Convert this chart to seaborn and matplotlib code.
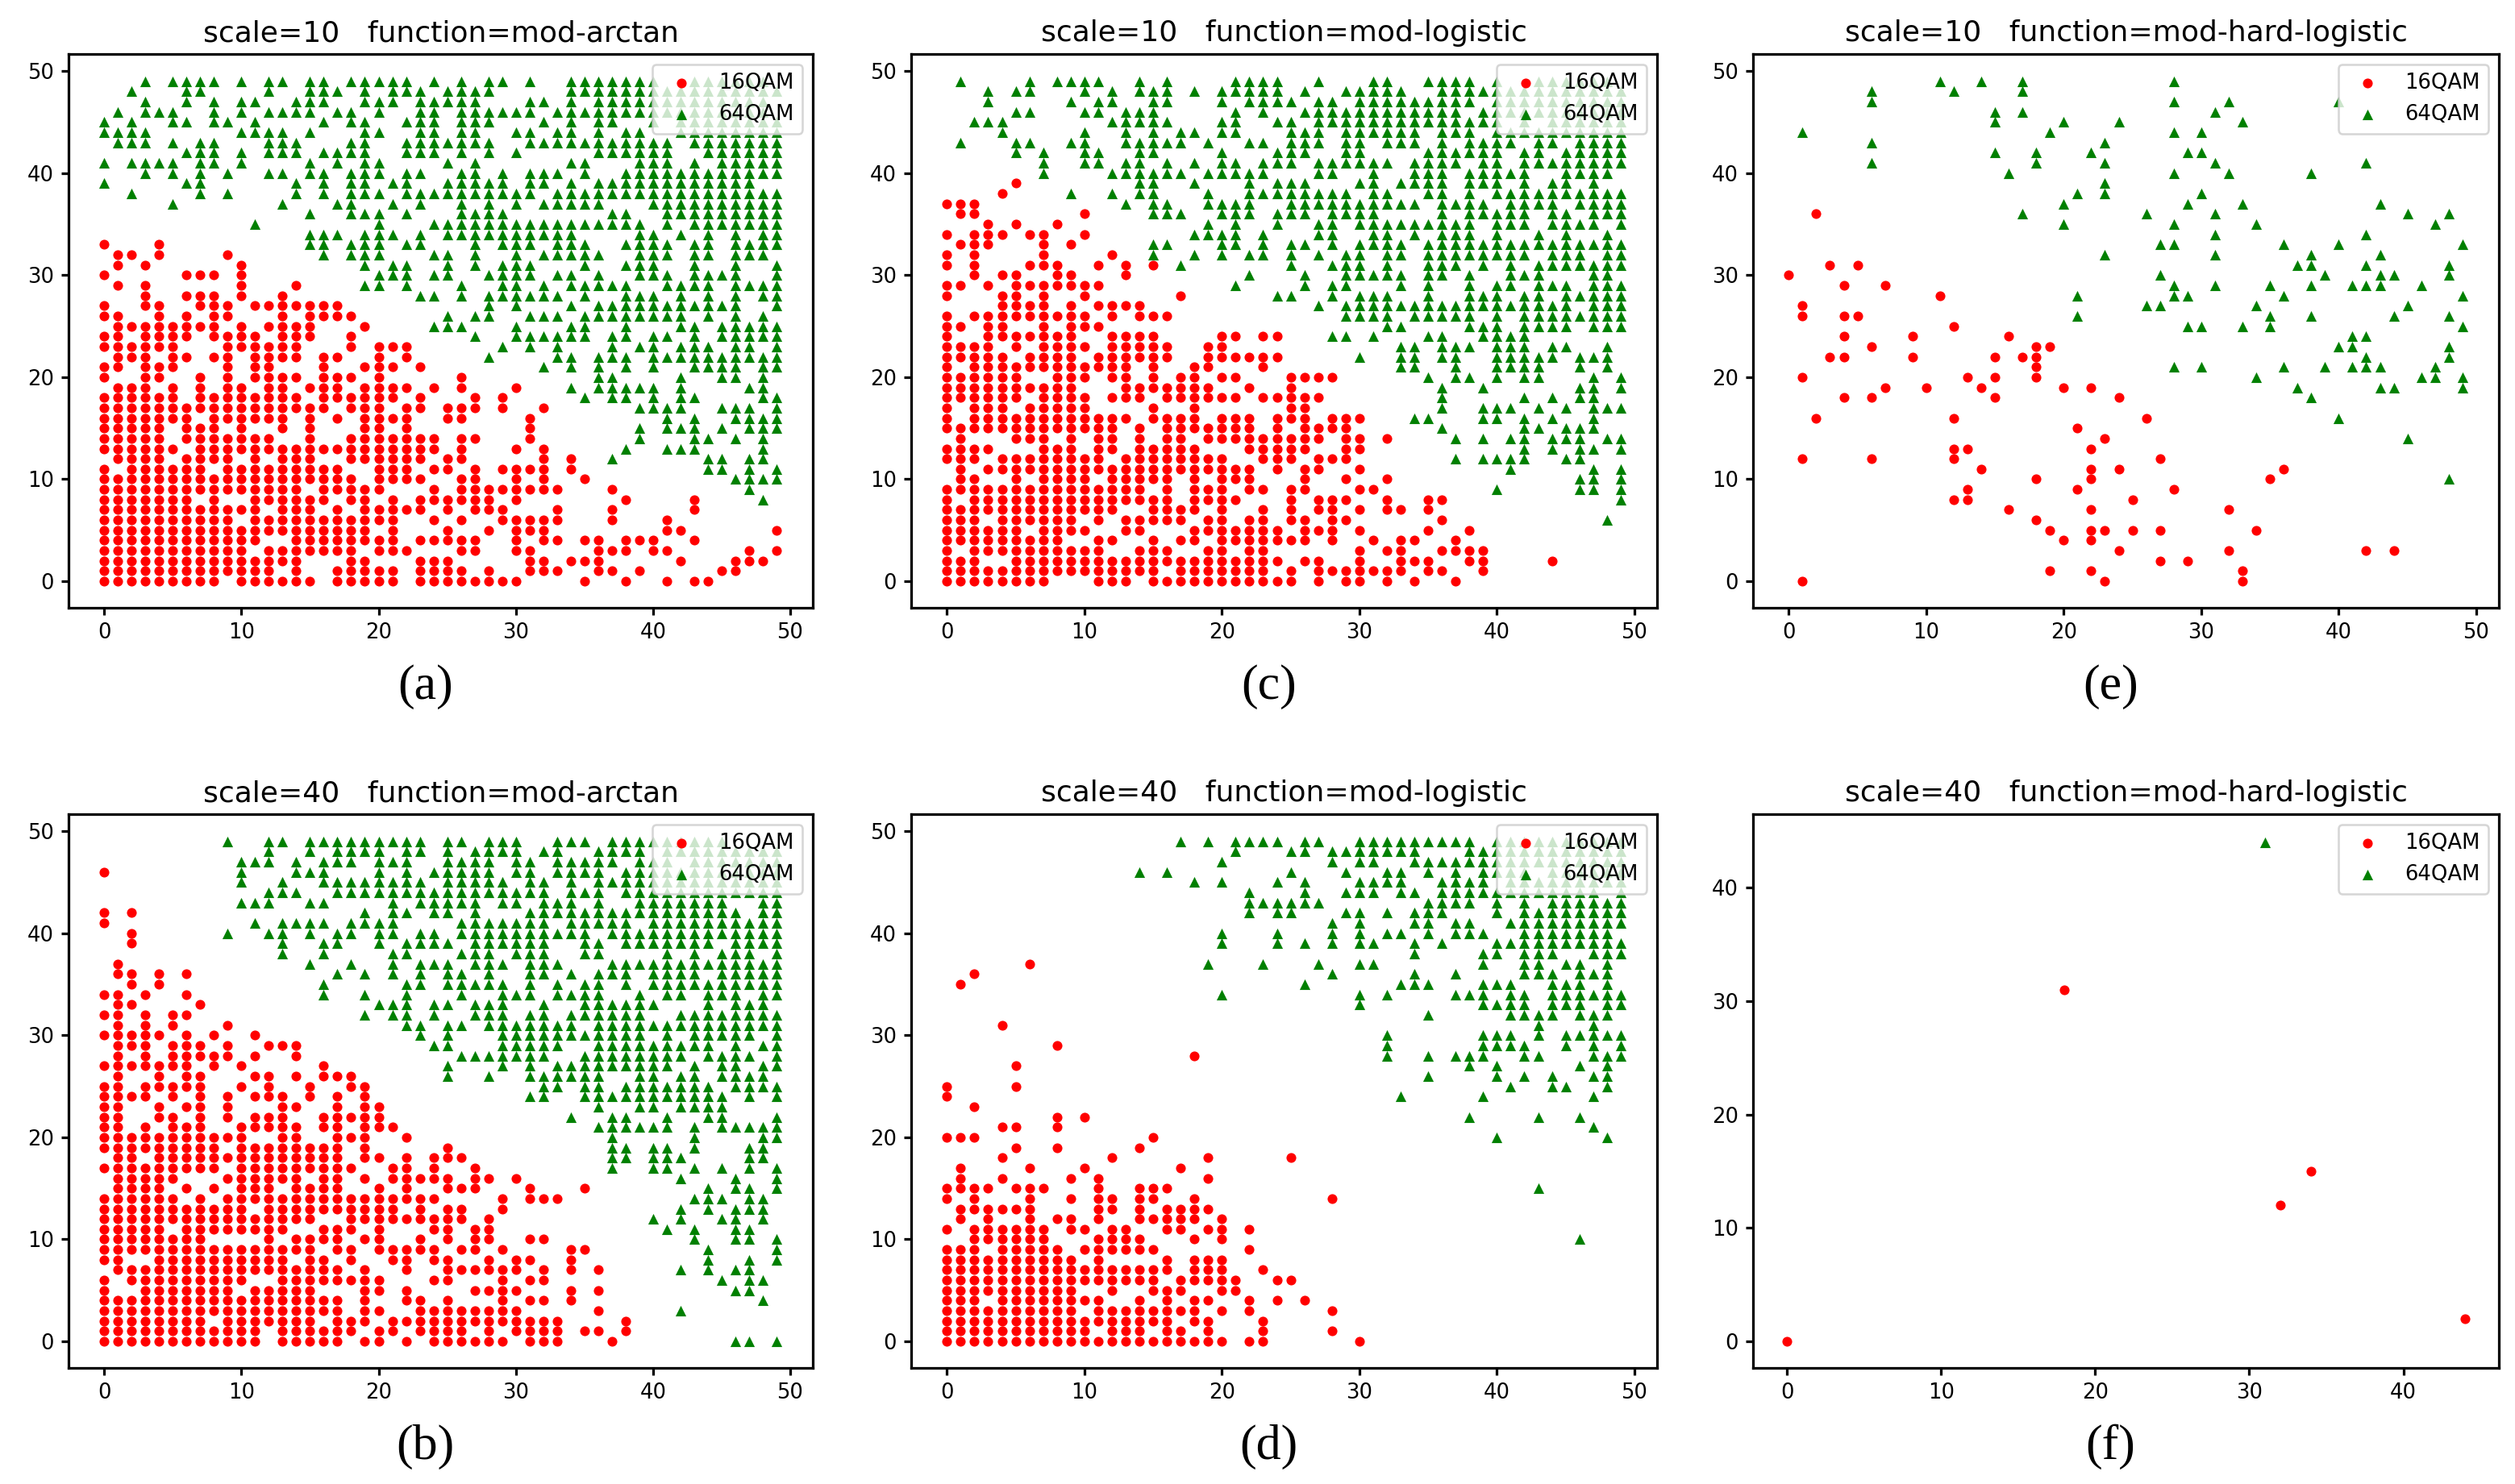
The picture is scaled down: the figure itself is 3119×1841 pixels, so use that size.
import matplotlib
matplotlib.use("Agg")
import matplotlib.pyplot as plt
import pandas as pd
import seaborn as sns

# Each table: y value -> the x values holding a point on that row ("3-5" = 3,4,5)
A_16QAM = {33:"0,4",32:"1,2,4,9",31:"1,3,10",30:"0,6,7,8,10",29:"1,3,10,14",28:"3,6,7,8,10,13",
27:"0,3,4,7,8,9,11-17",26:"0,1,4,6,8,9,13,15-18",25:"1-8,10,12-15,19",24:"0,1,3-6,8-11,13,14,15,18",
23:"0-5,9-14,18,20,21,22",22:"1,2,3,5,6,8,9,11-14,16,17,20,22",21:"0,1,3,4,5,9,11,12,16,19,20,21,23",
20:"0,3,4,7,9,11-14,16,17,18,20,26",19:"1,2,3,5,7,9,10,12,13,15,16,17,19-22,24,26,30",
18:"0-5,7-14,16-21,23,27,29",17:"0-16,18,19,20,22,23,25,26,27,29,32",16:"0-6,8-13,15,17,19-22,25,26,31",
15:"0-4,6,7,8,10,13,15,19,20,22,31",14:"0-4,6-12,15,18-24,26,27,31",13:"0-5,7-24,26,30,32",
12:"1-4,6-9,11,13,14,15,18-23,25,26,32,34",11:"0,2-7,9-17,20,21,22,24,25,27,29-32,34",
10:"0-18,20-23,26,27,30,32,35",9:"0-14,16-20,24,26-33,37",8:"0-6,8,11-16,18,19,21,23-28,30,38,43",
7:"0-11,13,14,15,17,19-23,25,27,28,29,33,37,43",6:"0-9,11-21,24,26,29-33,37,41",
5:"0-19,21,25,28,30,31,32,41,42,49",4:"0-11,14-21,23-27,30,32,33,35,36,38,39,40,43",
3:"0-10,12-18,20,21,22,26,27,30,31,36,37,38,40,41,47,49",2:"0-14,18,19,23,24,25,31,32,34,35,36,42,46,47,48",
1:"0-12,14,17-21,23-26,28,31,32,33,36,37,39,45,46",0:"0-8,10-15,17-21,23-30,35,38,41,43,44"}
A_64QAM = {49:"3,5-8,10,12,13,15,16,18-22,24,26,28,29,31,34-40,43-48",48:"2,6,7,12,15,16,17,19,21,22,23,25-28,34-49",
47:"3,6,8,10,11,14,15,16,19,20,21,23-27,31,32,34,36-48",46:"1,3,4,5,8,10,12-15,17,18,20,23,24,26-31,33-48",
45:"0,2,5,6,8,9,11,16,18,19,22,23,24,26,27,28,32,34,36,37,40,42-49",44:"0-3,10-13,15,19,20,23,24,26,27,30,31,33,34,36,38,39,42-49",
43:"1,2,3,5,7,8,12,13,14,18,19,22-28,31-41,43-49",42:"6,7,8,10,12,13,14,16-19,22,23,24,26,28,30,36-41,44-49",
41:"0,2-5,7,8,10,15,17,19,20,25,27,34,35,39,40,41,43,45-49",40:"3,5,7,9,12,13,15,16,18,19,20,22,23,26,27,29,31,32,33,35,38-49",
39:"0,6,7,14,16,18,19,21,22,25-29,31,32,34,36-47",38:"2,7,9,14,16,18,19,20,22-31,33-49",37:"5,13,17,18,21,23,26,28,30,32-36,40-49",
36:"15,18,19,20,22,26-29,37,38,41-49",35:"11,20,24-39,41,43-49",34:"15,16,17,19,20,21,23,25-34,39,40,42,44,46,48,49",
33:"15,16,18,19,20,22,23,27,29,30,31,33,34,35,38-41,43,44,46,47,48,49",32:"16,18,19,20,24,25,27,30,32-36,39,40,41,43,44,46,47,48",
31:"19,21,22,25,27,29,30,31,35,38,39,40,43,46,49",30:"20,21,22,24,25,28-31,33,34,36,39,40,41,43-46,49",
29:"19,20,22,26,29,30,32,34-38,41-44,46-49",28:"23,24,26,28-33,35,38,39,40,42,44,46,48,49",27:"28,30,34,36-46,49",
26:"25,27,28,31,32,33,35-42,44,46,48",25:"24,25,26,30,34,35,38,42,43,45-49",24:"27,30-35,37,38,40,41,43,45-49",
23:"29,31,33,37,39,40,42,43,44,46,47,49",22:"28,33,34,36,37,38,40-49",21:"32,34,36,38,40,43,44,45,46,48,49",
20:"36,37,42,45,46,48",19:"34,36-40,42,47,48",18:"35,37,38,40,42,43,48,49",17:"39-42,45,46,47,49",16:"41,43,46-49",
15:"39,41,42,43,45,47,48,49",14:"39,43,44,46,48",13:"38,41,42,43,48",12:"37,44,45,47,48",11:"44,45,47,49",10:"46-49",9:"47",8:"48"}

B_16QAM = {46:"0",42:"0,2",41:"0",40:"2",39:"2",37:"1",36:"1,2,4,6",35:"2,4",34:"0,1,3,6",33:"1,2,7",32:"0,1,3,5,6",31:"1,3,5,9",
30:"0-4,6,8,11",29:"1,2,3,5,6,7,9,12,13,14",28:"1,3,5-9,11,14",27:"0-6,8,10,16",26:"1,4,6,7,11,12,14,16,17,18",
25:"0,1,3-7,10,12,15,18,19",24:"0,1,2,3,5,7,9,11,12,13,15,17,19",23:"0,1,4,6,7,9,13,14,17,19,20",22:"0,1,4,5,7,9,11,12,13,16-20",
21:"0,1,3,5,6,7,10-14,16,17,19,20,21",20:"0-10,13,14,17,18,19,22",19:"0-8,10-17,19,25",18:"1,2,4-17,19,20,22,24,25,26",
17:"0-8,10-18,21,22,24,27",16:"1-5,9-14,16,17,19,21-25,27,28,30",15:"1-4,6,8,10,11,12,14-17,20,22,25,26,27,31,35",
14:"0-5,7,9-24,29,31,32,33",13:"0-10,12-21,23,25,26,29",12:"0-15,18-26,28",11:"0-4,6-13,16,17,18,20,24,25,27,28",
10:"0-7,12,14-17,19,20,23,25,27,28,31,32",9:"0-15,17,18,20-24,26,27,29,34,35",8:"0,1,4-13,15,16,18,21,22,24,25,28,30,31,34",
7:"1-17,19,22,25-30,32,34,36",6:"0,2-10,13-20,24,25,29,31,32",5:"0,3-9,11-15,19,20,22,27-30,34,36",4:"0-17,19,22,23,25,29,31,32,34",
3:"0-17,19,20,23-30,36",2:"0-7,9-15,17,18,19,21-33,38",1:"0-11,13-18,20,21,23-26,28,30-33,35,36,38",0:"0-11,13-17,19,20,22,24-29,31,32,33,37"}
B_64QAM = {49:"9,12,13,15-23,25,26,28,29,30,33,34,35,37-45",48:"12,15,17-20,22,23,25,27-30,32,33,36-39,41-49",
47:"10,11,12,14,16,17,18,20,21,22,25-28,30,31,33-37,39,40,41,43-49",46:"10,14,15,16,20,22,24-28,30,31,33-36,38-49",
45:"10,13,16-23,25-29,31,32,34,36-49",44:"12,13,14,17-32,34,35,36,38-49",43:"10,11,12,15,16,21,23-27,29,30,32,33,34,36,39-45,48,49",
42:"19,21,22,24,25,27,31-46,48,49",41:"11,13-16,18-21,26-32,34-38,40-49",40:"9,12,13,15,17,18,20,21,23,24,26-35,37-49",
39:"13,16,17,20,22-25,27-32,35,36,38-44,46-49",38:"13,16,21,22,26,27,28,30,31,32,35,36,41,43,45,46,47,49",
37:"15,18,21,23,24,25,27,28,29,31,32,33,37-49",36:"17,19,21,23,25,26,28,31,32,34,36,37,38,40-43,45-49",
35:"16,22,23,25-29,31,33,35,36,38,40-49",34:"16,19,22,26,29,30,31,33-36,39,41,42,44,45,46,48,49",
33:"20,21,22,24,25,27,28,29,32,35-40,44,46,47,48",32:"19,21,22,24,27,28,29,31,32,34-39,42-49",31:"22,23,25,26,28-34,36-49",
30:"23,25,29-39,41,43-47,49",29:"24,25,29-33,36-44,46,48,49",28:"26-32,35-42,44-47,49",27:"25,29,31,33-41,43,45,46,48,49",
26:"25,28,31-36,39,40,42,43,45-48",25:"32,33,35,36,38-44,46-49",24:"31,32,35-45,47,49",23:"36,39,40,42-45",22:"34,37,38,41,44,45,49",
21:"36-41,43,45-49",20:"37,43,48,49",19:"37,38,40,41,43,47,48",18:"37,38,40,41,42,47,48",17:"37,40,41,43,45,47,49",16:"42,46,49",
15:"44,46,47,49",14:"43,44,45,47,48",13:"42,44,46,47,48",12:"40,42,45,46,48",11:"41,43,46,47",10:"43,46,47,49",9:"44,49",8:"44,47,49",
7:"42,44,46,47",6:"45,47,48",5:"46,47",4:"48",3:"42",0:"46,47,49"}

C_16QAM = {39:"5",38:"4",37:"0,1,2",36:"1,2,10",35:"3,5,8",34:"0,2,3,4,6,7,10",33:"1,2,3,7,9",32:"0,2,7,12",31:"0,2,6,7,8,11,13,15",
30:"2,4,5,8,9,13",29:"0,1,3,5-11",28:"0,4,5,7,10,17",27:"4-7,9,11-14",26:"0,2-10,12,14,15,16",25:"0,1,3,4,7,9,10,11",
24:"0,3-9,12-15,20,21,23,24",23:"0-3,5,7-10,12-16,19,20",22:"0-4,6-9,11-16,19-24",21:"0,2-13,15,18,19,23",20:"0-5,8,9,10,12,13,15,17,18,20,21,25-28",
19:"0-9,13-19,22,25",18:"0-5,7-10,12,13,14,16-21,23-27",17:"0,2,3,4,6-10,15,18,25,26",16:"0,2-13,15-18,20,21,22,24,25,26,28,29,30",
15:"0-12,14,16-22,24,26-29",14:"1,5,6,7,9,11,12,14,16,17,19-27,29,30,32",13:"0-3,7,8,9,11,12,14-18,22-26,29,30",
12:"0,1,2,4-11,13-20,23,24,25,27,28,29",11:"1,3-22,24,26,27,30",10:"1,2,5,7-10,12-16,18,20,21,22,26,29,32",
9:"0-14,16,18,19,20,22,23,25,26,30,31",8:"0,2-16,18-21,25,27,28,29,32,35,36",7:"0-12,15-18,20,23,25,27,28,30,32,33,35",
6:"0,1,2,4-9,11,13-17,19,20,22,23,25,26,28,29,36",5:"0-5,7-10,13,14,18-24,26,27,28,30,35,38",4:"0-8,11,12,15,17,18,20-26,28,31,33,34,37",
3:"0,2-11,14,15,16,19,20,22,23,30,32,33,36-39",2:"0,1,2,5-24,26,27,30,33,34,35,38,39,44",1:"0-15,17-23,25,27-33,35,36,39",
0:"0-7,11,12,13,15-25,27,29,30,32,34,37"}
C_64QAM = {49:"1,6,8-11,14,16,21-24,27,31,32,35-38,40,43-48",48:"3,5,6,10,12,14,15,16,18,20-24,26,29-33,36-49",
47:"3,9,11,12,15,16,20,22-25,27,28,30-38,40-49",46:"5,6,10,11,13,14,15,21,23,26-37,39-49",45:"2,3,4,12-16,20,21,24,25,27-39,40,42,44-49",
44:"4,10,13,15,17,18,20,21,25,26,27,29-34,36,37,38,40-49",43:"1,5,6,9,10,13-17,19,22,23,25,26,27,29,30,32,33,34,36,38-41,43,44,46-49",
42:"5,7,10,11,14,15,20,24,25,26,29,30,35-40,42,43,45-49",41:"7,10,11,13,14,16,18,20,21,23,24,25,27-32,34-37,39,40,42-49",
40:"7,12-17,19-23,27,28,31,34,35,36,38-42,45-48",39:"14,15,18,22,24,25,26,30,31,33,34,35,36,38,39,40,42,44,45,47",
38:"9,12,14,15,19,22-29,31,32,35,36,38,40-49",37:"13,15,16,19,20,21,22,25-34,36-39,41-44,46-49",36:"15,16,17,20,21,22,24,25,26,28-31,36,38-42,44,45,47,48,49",
35:"19,21,24,27,28,30-38,40,41,42,44-47,49",34:"18-21,23,27,28,31,32,34,36,37,38,40,43,45,48",33:"15,16,20,21,23,25,26,28,30-33,35-49",
32:"15,18,20,22,23,25,27,29,30,32,33,35,36,37,38-42,44,45,46,48,49",31:"17,25,28,29,30,32,35,36,37,39,41,43-49",30:"22,26,29-33,35,36,38,41,42,43,47,48",
29:"21,26,28,29,33,35,38,40,41,43,44,45,47,48,49",28:"24,25,28,30,31,32,35,38,39,40,42,43,45-49",27:"27,29-45,47,48,49",
26:"29-32,34-38,40,42-46,47,48,49",25:"32,33,38,39,40,42-45,47,48,49",24:"28,29,31,35,36,39-42",23:"33,34,36,37,38,40,41,42,44,45,48",
22:"30,33,34,36,37,40-44,46,47,48",21:"33,34,37,40,41,42,43,46,48",20:"35,37,38,40,42,43,47,49",19:"36,39,46,47,49",18:"36,42,44,46,47",
17:"36,39,40,41,43,45,47,48,49",16:"34,35,39,40,42,44,47",15:"36,42,43,45,46,47",14:"37,39,41,42,44,45,46,48,49",13:"42,44,46,47,49",
12:"37,39,40,41,42,45,46",11:"41,47,49",10:"46,47,49",9:"40,46,47,49",8:"49",6:"48"}

D_16QAM = {37:"6",36:"2",35:"1",31:"4",29:"8",28:"18",27:"5",25:"0,5",24:"0",23:"2",22:"8,10",21:"4,5,8",20:"0,1,2,15",19:"5,8,14",18:"4,12,19,25",
17:"1,6,10,17",16:"1,4,9,11,19",15:"0-3,5,6,7,11,14,15,16",14:"0,2,6,9,11,12,14,15,18,28",13:"1-6,11,12,14,16-19",12:"1,3,6,8,9,11,14-18,20",
11:"0,2-7,9,10,12,13,16,17,19,20,22",10:"2-7,11-14,18,20",9:"0,1,2,4-8,10-15,22",8:"0-9,11,16,18,19,20",7:"0-16,18,19,20,23",
6:"0-15,17-21,24,25",5:"0-9,12,15,16,17,20,21",4:"0,1,2,4-11,14,16,18,19,22,24,26",3:"0-9,11-18,20,22,28",2:"0-16,18,19,23",
1:"0-10,12,13,14,16,17,19,23,28",0:"0-20,22,23,30"}
D_64QAM = {49:"17,19,21-24,26,27,30-38,40-49",48:"21,25,26,28-34,38-49",47:"20,28,30,31,34-49",46:"14,16,25,29,32,33,35,37,39,40,41,42,44-49",
45:"18,20,24,26,30-33,36-39,41-49",44:"22,26,29,30,31,33,34,36-47,49",43:"22-27,35-38,40,42,44-49",42:"22,24,25,29,30,32,34,35,36,40,42-49",
41:"28,30,34,35,37,38,41-49",40:"20,24,28,30,32,33,35,37,38,39,42-48",39:"20,24,26,28,30,31,34,36,40-49",38:"34,39,40,42,43,44,47,48,49",
37:"19,23,27,30,31,39,42,43,45,46,48",36:"28,34,37,42,43,44,46,47,48",35:"26,33,34,35,39,40,41,44,45,46,48",34:"20,30,32,37,38,39,41,42,44-49",
33:"30,39-42,44,45,46,48,49",32:"35,41-44,46,47,48",31:"43,47",30:"32,39,40,41,43,45-49",29:"32,39-42,45,47,49",28:"32,35,37,38,39,42,43,47,48,49",
27:"38,40,46,48",26:"35,40,42,44,47,48",25:"41,44,45,48",24:"33,39,47",22:"38,43,46",21:"47",20:"40,48",15:"43",10:"46"}

E_16QAM = {36:"2",31:"3,5",30:"0",29:"4,7",28:"11",27:"1",26:"1,4,5",25:"12",24:"4,9,16",23:"6,18,19",22:"3,4,9,15,17,18",21:"18",20:"1,13,15,18",
19:"7,10,14,20,22",18:"4,6,15,24",16:"2,12,26",15:"21",14:"23",13:"12,13,22",12:"1,6,12,27",11:"14,22,24,36",10:"18,22,35",9:"13,21,28",
8:"12,13,25",7:"16,22,32",6:"18",5:"19,22,23,25,27,34",4:"20,22",3:"24,32,42,44",2:"27,29",1:"19,22,33",0:"1,23,33"}
E_64QAM = {49:"11,14,17,28",48:"6,12,17",47:"6,28,32,40",46:"15,17,31",45:"15,20,24,33",44:"1,19,28,30",43:"6,23",42:"15,18,22,29,30",41:"6,18,23,31,42",
40:"16,28,32,38",39:"23",38:"21,23,30",37:"20,29,33,43",36:"17,26,31,45,48",35:"20,28,34,47",34:"31,42",33:"27,28,36,40,49",32:"23,31,38,43",
31:"37,38,42,48",30:"27,39,43,44,48",29:"28,31,35,38,41,42,43,46",28:"21,28,29,36,49",27:"26,27,34,45",26:"21,35,38,44,48",25:"29,30,33,35,49",
24:"41,42",23:"40,41,48",22:"42,48",21:"28,30,36,39,41,42,43,47",20:"34,46,47,49",19:"37,43,44,49",18:"38",16:"40",14:"45",10:"48"}

F_16QAM = {31:"18",15:"34",12:"32",2:"44",0:"0"}
F_64QAM = {44:"31"}

PANELS = [
    ("scale=10   function=mod-arctan", "(a)", A_16QAM, A_64QAM),
    ("scale=40   function=mod-arctan", "(b)", B_16QAM, B_64QAM),
    ("scale=10   function=mod-logistic", "(c)", C_16QAM, C_64QAM),
    ("scale=40   function=mod-logistic", "(d)", D_16QAM, D_64QAM),
    ("scale=10   function=mod-hard-logistic", "(e)", E_16QAM, E_64QAM),
    ("scale=40   function=mod-hard-logistic", "(f)", F_16QAM, F_64QAM),
]
LABELS = ["16QAM", "64QAM"]


def to_frame(rows):
    pts = []
    for y, spec in rows.items():
        for part in spec.split(","):
            lo, _, hi = part.partition("-")
            for x in range(int(lo), int(hi or lo) + 1):
                pts.append((x, y))
    return pd.DataFrame(pts, columns=["x", "y"])


W, H, DPI = 3119, 1841, 186
plt.rcParams.update({
    "font.family": "DejaVu Sans", "axes.linewidth": 1.25,
    "xtick.major.width": 1.25, "ytick.major.width": 1.25,
})
fig = plt.figure(figsize=(W / DPI, H / DPI), dpi=DPI)
lefts = [(85, 1008), (1130, 2055), (2174, 3099)]
rows = [(67, 754), (1010, 1697)]

for i, (title, cap, red, green) in enumerate(PANELS):
    (x0, x1), (y0, y1) = lefts[i // 2], rows[i % 2]
    ax = fig.add_axes([x0 / W, 1 - y1 / H, (x1 - x0) / W, (y1 - y0) / H])
    sns.scatterplot(data=to_frame(red), x="x", y="y", color="red", marker="o", s=22,
                    linewidth=0, label=LABELS[0], ax=ax)
    sns.scatterplot(data=to_frame(green), x="x", y="y", color="green", marker="^", s=26,
                    linewidth=0, label=LABELS[1], ax=ax)
    ax.set_xlabel("")
    ax.set_ylabel("")
    ax.set_title(title, fontsize=14)
    if i < 5:
        ax.set_xlim(-2.6, 51.65)
        ax.set_ylim(-2.6, 51.67)
    else:
        ax.set_ylim(-2.35, 46.5)
    ax.legend(loc="upper right")
    fig.text(((x0 + x1) / 2 - 19) / W, 1 - (y1 + 98) / H, cap, ha="center", va="center",
             family="Liberation Serif", fontsize=24)

fig.savefig("out.png", dpi=DPI, facecolor="white")
